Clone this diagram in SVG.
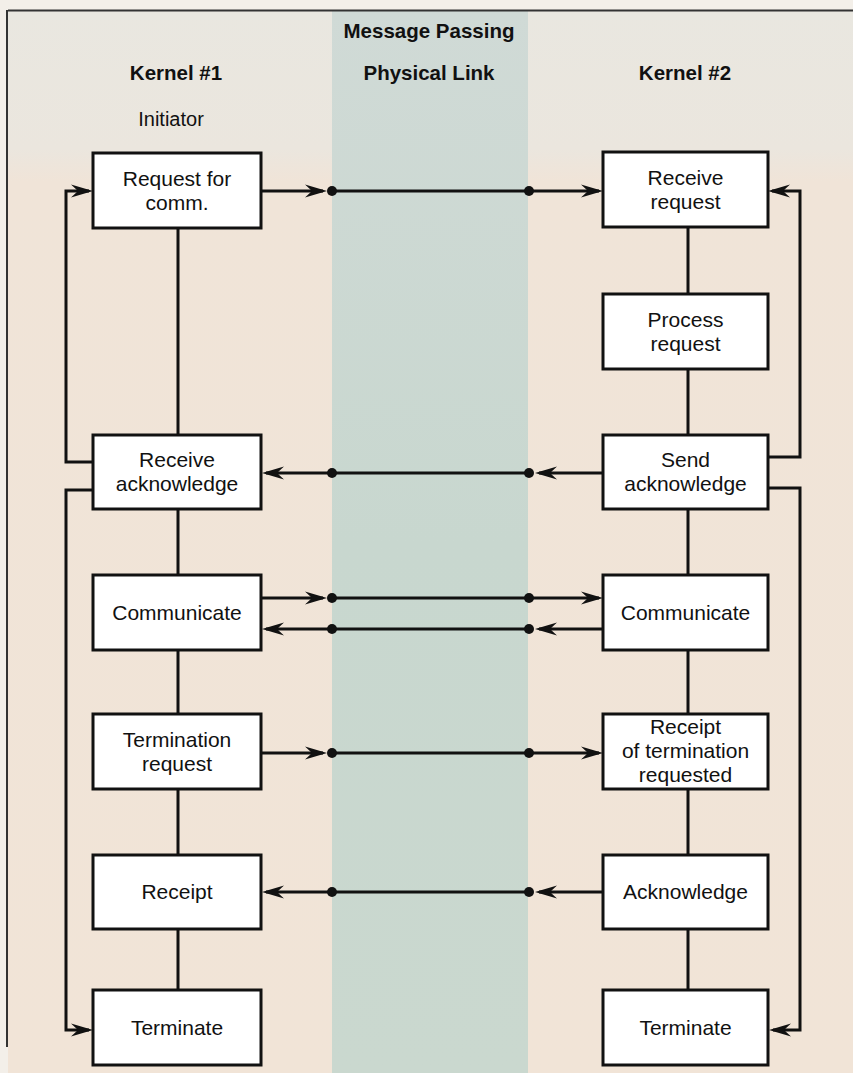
<svg xmlns="http://www.w3.org/2000/svg" width="853" height="1073" viewBox="0 0 853 1073">
  <defs>
    <linearGradient id="bg" x1="0" y1="0" x2="0" y2="1">
      <stop offset="0" stop-color="#e9e7e0"/>
      <stop offset="0.13" stop-color="#ebe6de"/>
      <stop offset="0.16" stop-color="#f0e4d8"/>
      <stop offset="1" stop-color="#f1e4d7"/>
    </linearGradient>
    <linearGradient id="band" x1="0" y1="0" x2="0" y2="1">
      <stop offset="0" stop-color="#d0dad6"/>
      <stop offset="0.5" stop-color="#c8d7cf"/>
      <stop offset="1" stop-color="#cad8cf"/>
    </linearGradient>
    <marker id="ah" markerUnits="userSpaceOnUse" markerWidth="24" markerHeight="14" refX="18" refY="6.5" orient="auto" overflow="visible">
      <path d="M0,0 L22,6.5 L0,13 L7,6.5 Z" fill="#111"/>
    </marker>
    <style>
      .box { fill: #ffffff; stroke: #111; stroke-width: 3; }
      .lbl { font-family: "Liberation Sans", Arial, Helvetica, sans-serif; font-size: 21px; fill: #111; text-anchor: middle; }
      .ttl { font-family: "Liberation Sans", Arial, Helvetica, sans-serif; font-size: 20.5px; font-weight: bold; fill: #111; text-anchor: middle; }
      .ini { font-family: "Liberation Sans", Arial, Helvetica, sans-serif; font-size: 20px; fill: #111; text-anchor: middle; }
      .ln { fill: none; stroke: #111; stroke-width: 3; }
      .ar { fill: none; stroke: #111; stroke-width: 3; marker-end: url(#ah); }
      .dot { fill: #111; }
    </style>
  </defs>

  <!-- background -->
  <rect x="0" y="0" width="853" height="1073" fill="#f3efe9"/>
  <rect x="8" y="11" width="845" height="1062" fill="url(#bg)"/>
  <rect x="332" y="11" width="196" height="1062" fill="url(#band)"/>
  <line x1="8" y1="10.5" x2="853" y2="10.5" stroke="#333" stroke-width="2"/>
  <line x1="7" y1="10" x2="7" y2="1047" stroke="#333" stroke-width="2"/>

  <!-- headings -->
  <g id="headings">
    <text class="ttl" x="429" y="38">Message Passing</text>
    <text class="ttl" x="176" y="80">Kernel #1</text>
    <text class="ttl" x="429" y="80">Physical Link</text>
    <text class="ttl" x="685" y="80">Kernel #2</text>
    <text class="ini" x="171" y="126">Initiator</text>
  </g>

  <!-- connectors -->
  <g id="connectors">
    <!-- left vertical spine -->
    <path class="ln" d="M178,228 V435 M178,509 V575 M178,650 V714 M178,789 V855 M178,929 V990"/>
    <!-- right vertical spine -->
    <path class="ln" d="M688,227 V294 M688,369 V435 M688,509 V575 M688,650 V714 M688,789 V855 M688,929 V990"/>
    <!-- left feedback loops -->
    <path class="ar" d="M93,462 H66 V191 H89"/>
    <path class="ar" d="M93,490 H66 V1030 H89"/>
    <!-- right feedback loops -->
    <path class="ar" d="M768,457 H800 V191 H772"/>
    <path class="ar" d="M768,488 H800 V1030 H773"/>

    <!-- row 1: request -->
    <path class="ar" d="M261,191 H323"/>
    <path class="ln" d="M332,191 H529"/>
    <path class="ar" d="M529,191 H599"/>
    <circle class="dot" cx="332" cy="191" r="5"/>
    <circle class="dot" cx="529" cy="191" r="5"/>

    <!-- row 2: acknowledge -->
    <path class="ar" d="M603,473 H539"/>
    <path class="ln" d="M529,473 H332"/>
    <path class="ar" d="M332,473 H266"/>
    <circle class="dot" cx="332" cy="473" r="5"/>
    <circle class="dot" cx="529" cy="473" r="5"/>

    <!-- row 3: communicate out -->
    <path class="ar" d="M261,598 H323"/>
    <path class="ln" d="M332,598 H529"/>
    <path class="ar" d="M529,598 H599"/>
    <circle class="dot" cx="332" cy="598" r="5"/>
    <circle class="dot" cx="529" cy="598" r="5"/>

    <!-- row 4: communicate back -->
    <path class="ar" d="M603,629 H539"/>
    <path class="ln" d="M529,629 H332"/>
    <path class="ar" d="M332,629 H266"/>
    <circle class="dot" cx="332" cy="629" r="5"/>
    <circle class="dot" cx="529" cy="629" r="5"/>

    <!-- row 5: termination -->
    <path class="ar" d="M261,753 H323"/>
    <path class="ln" d="M332,753 H529"/>
    <path class="ar" d="M529,753 H599"/>
    <circle class="dot" cx="332" cy="753" r="5"/>
    <circle class="dot" cx="529" cy="753" r="5"/>

    <!-- row 6: acknowledge termination -->
    <path class="ar" d="M603,892 H539"/>
    <path class="ln" d="M529,892 H332"/>
    <path class="ar" d="M332,892 H266"/>
    <circle class="dot" cx="332" cy="892" r="5"/>
    <circle class="dot" cx="529" cy="892" r="5"/>
  </g>

  <!-- Kernel #1 nodes -->
  <g id="k1-request">
    <rect class="box" x="93" y="153" width="168" height="75"/>
    <text class="lbl" x="177" y="186">Request for</text>
    <text class="lbl" x="177" y="210">comm.</text>
  </g>
  <g id="k1-receive-ack">
    <rect class="box" x="93" y="435" width="168" height="74"/>
    <text class="lbl" x="177" y="467">Receive</text>
    <text class="lbl" x="177" y="491">acknowledge</text>
  </g>
  <g id="k1-communicate">
    <rect class="box" x="93" y="575" width="168" height="75"/>
    <text class="lbl" x="177" y="620">Communicate</text>
  </g>
  <g id="k1-termination-request">
    <rect class="box" x="93" y="714" width="168" height="75"/>
    <text class="lbl" x="177" y="747">Termination</text>
    <text class="lbl" x="177" y="771">request</text>
  </g>
  <g id="k1-receipt">
    <rect class="box" x="93" y="855" width="168" height="74"/>
    <text class="lbl" x="177" y="899">Receipt</text>
  </g>
  <g id="k1-terminate">
    <rect class="box" x="93" y="990" width="168" height="75"/>
    <text class="lbl" x="177" y="1035">Terminate</text>
  </g>

  <!-- Kernel #2 nodes -->
  <g id="k2-receive-request">
    <rect class="box" x="603" y="152" width="165" height="75"/>
    <text class="lbl" x="685.5" y="185">Receive</text>
    <text class="lbl" x="685.5" y="209">request</text>
  </g>
  <g id="k2-process-request">
    <rect class="box" x="603" y="294" width="165" height="75"/>
    <text class="lbl" x="685.5" y="327">Process</text>
    <text class="lbl" x="685.5" y="351">request</text>
  </g>
  <g id="k2-send-ack">
    <rect class="box" x="603" y="435" width="165" height="74"/>
    <text class="lbl" x="685.5" y="467">Send</text>
    <text class="lbl" x="685.5" y="491">acknowledge</text>
  </g>
  <g id="k2-communicate">
    <rect class="box" x="603" y="575" width="165" height="75"/>
    <text class="lbl" x="685.5" y="620">Communicate</text>
  </g>
  <g id="k2-receipt-termination">
    <rect class="box" x="603" y="714" width="165" height="75"/>
    <text class="lbl" x="685.5" y="734">Receipt</text>
    <text class="lbl" x="685.5" y="758">of termination</text>
    <text class="lbl" x="685.5" y="782">requested</text>
  </g>
  <g id="k2-acknowledge">
    <rect class="box" x="603" y="855" width="165" height="74"/>
    <text class="lbl" x="685.5" y="899">Acknowledge</text>
  </g>
  <g id="k2-terminate">
    <rect class="box" x="603" y="990" width="165" height="75"/>
    <text class="lbl" x="685.5" y="1035">Terminate</text>
  </g>
</svg>
